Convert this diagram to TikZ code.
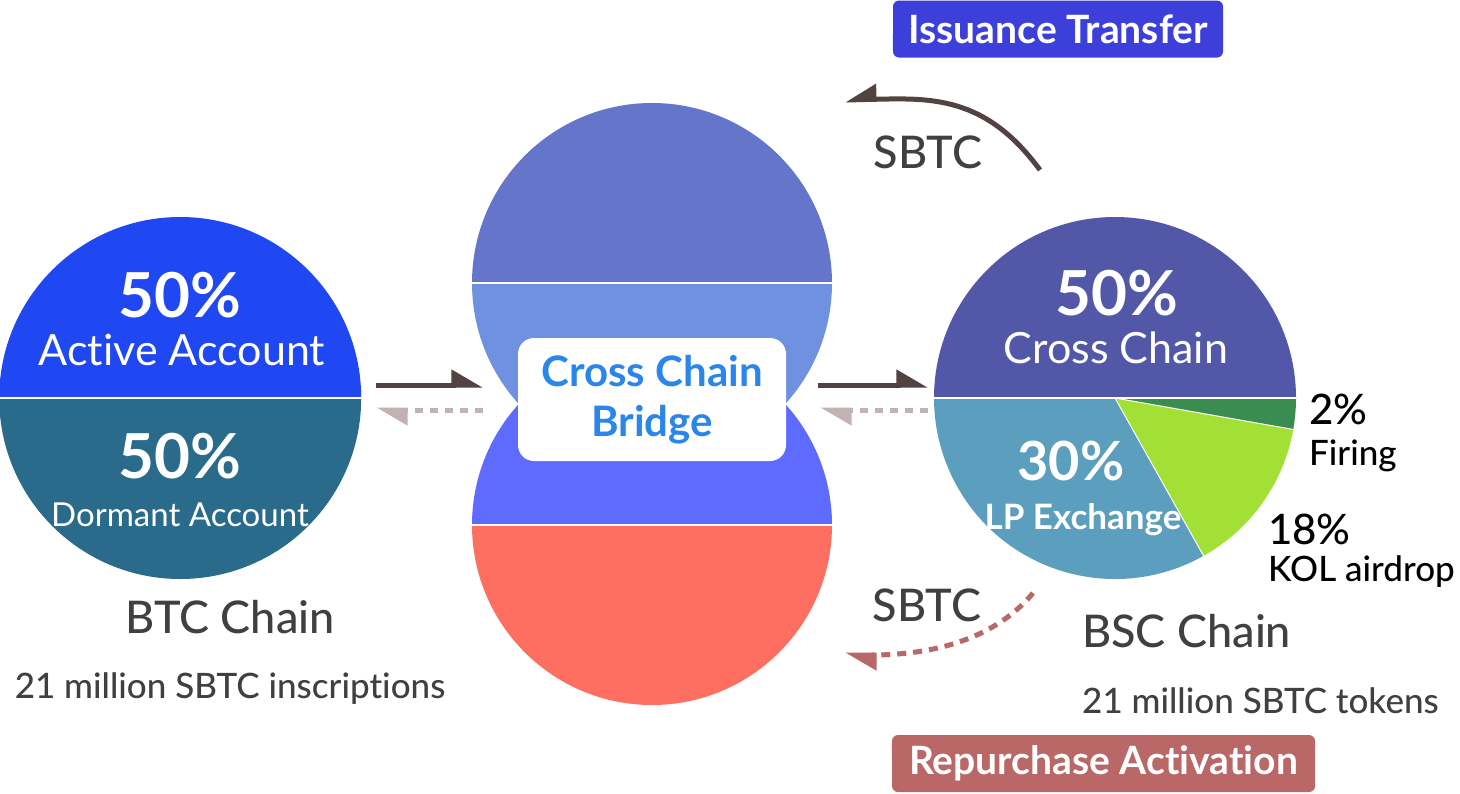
\documentclass[tikz,border=0pt]{standalone}
\usepackage{fontspec}
\setmainfont{Lato}[Ligatures=NoCommon]
\newfontfamily\medfont{Lato Medium}[Ligatures=NoCommon]
\usetikzlibrary{arrows.meta,positioning}

\definecolor{btcTop}{HTML}{1F47F2}
\definecolor{btcBot}{HTML}{2A6B8C}
\definecolor{midA}{HTML}{6575C9}
\definecolor{midB}{HTML}{7090E0}
\definecolor{midC}{HTML}{5F6BFF}
\definecolor{midD}{HTML}{FF6F61}
\definecolor{bscTop}{HTML}{5257A8}
\definecolor{bscLP}{HTML}{5B9EBD}
\definecolor{bscKOL}{HTML}{A3E035}
\definecolor{bscFire}{HTML}{3A8C50}
\definecolor{bridgeTxt}{HTML}{2B86EB}
\definecolor{darkTxt}{HTML}{404040}
\definecolor{arrowDark}{HTML}{524242}
\definecolor{arrowLight}{HTML}{C2B2B2}
\definecolor{issueBlue}{HTML}{3D3FDB}
\definecolor{buyRed}{HTML}{BA6767}

\begin{document}
\begin{tikzpicture}[
  x=1pt, y=-1pt,
  pct/.style={text=white, anchor=base, inner sep=0pt,
              font=\fontsize{62}{62}\selectfont\bfseries},
  inlbl/.style={text=white, anchor=base, inner sep=0pt,
                font=\fontsize{43}{43}\selectfont},
  sidelbl/.style={text=black, anchor=base west, inner sep=0pt,
                  font=\medfont\fontsize{35}{35}\selectfont},
  sidepct/.style={text=black, anchor=base west, inner sep=0pt,
                  font=\medfont\fontsize{42}{42}\selectfont},
  chain/.style={text=darkTxt, inner sep=0pt,
                font=\medfont\fontsize{45}{45}\selectfont},
  supply/.style={text=darkTxt, inner sep=0pt,
                 font=\medfont\fontsize{35}{35}\selectfont},
  callout/.style={text=white, rounded corners=6pt, inner sep=0pt,
                  minimum height=57pt, font=\fontsize{39}{39}\selectfont\bfseries},
  flow/.style={draw=arrowDark, line width=5pt,
               -{Triangle[harpoon,length=27pt,width=30pt]}},
  back/.style={draw=arrowLight, line width=5pt, dash pattern=on 8pt off 7pt,
               -{Triangle[harpoon,length=27pt,width=30pt]}},
  divider/.style={draw=white, line width=1.5pt}
]
\useasboundingbox (0,0) rectangle (1460,793);

% ───────── BTC chain ─────────
\node[circle, minimum size=362pt, inner sep=0pt] (btc) at (180,398) {};
\fill[btcTop] (btc.east) arc[start angle=0, end angle=-180, radius=181] -- cycle;
\fill[btcBot] (btc.east) arc[start angle=0, end angle=180, radius=181] -- cycle;
\draw[divider] (btc.west) -- (btc.east);
\node[pct]   at (180,317) {50\%};
\node[inlbl] at (182,365) {Active Account};
\node[pct]   at (180,478) {50\%};
\node[inlbl, font=\fontsize{33}{33}\selectfont] at (180,526) {Dormant Account};
\node[chain, anchor=base] (btcname) at (230,633) {BTC Chain};
\node[supply, anchor=base] at (230,698) {21 million SBTC inscriptions};

% ───────── cross chain bridge ─────────
\fill[midD] (472,525) arc[start angle=180, end angle=0, radius=180] -- cycle;
\fill[midC] (472,525) arc[start angle=180, end angle=360, radius=180] -- cycle;
\begin{scope}
  \clip (400,0) rectangle (900,404);
  \fill[midA] (472,283) arc[start angle=180, end angle=360, radius=180] -- cycle;
  \fill[midB] (472,283) arc[start angle=180, end angle=0, radius=180] -- cycle;
\end{scope}
\draw[divider] (472,283) -- (832,283);
\draw[divider] (472,525) -- (832,525);
\node[fill=white, rounded corners=16pt, minimum width=268pt, minimum height=123pt,
      align=center, text=bridgeTxt, font=\fontsize{42}{50}\selectfont\bfseries]
  (bridge) at (652,399.5) {Cross Chain\\Bridge};

% ───────── BSC chain ─────────
\node[circle, minimum size=362pt, inner sep=0pt] (bsc) at (1115,398) {};
\fill[bscTop] (bsc.center) -- +(180:181) arc[start angle=180, end angle=360, radius=181] -- cycle;
\fill[bscFire] (bsc.center) -- +(0:181) arc[start angle=0, end angle=10, radius=181] -- cycle;
\fill[bscKOL] (bsc.center) -- +(10:181) arc[start angle=10, end angle=60.7, radius=181] -- cycle;
\fill[bscLP] (bsc.center) -- +(60.7:181) arc[start angle=60.7, end angle=180, radius=181] -- cycle;
\draw[divider] (bsc.west) -- (bsc.east);
\draw[divider, line width=1pt] (bsc.center) -- +(10:181);
\draw[divider, line width=1pt] (bsc.center) -- +(60.7:181);
\node[pct]   at (1117,315) {50\%};
\node[inlbl] at (1116,363) {Cross Chain};
\node[pct, font=\fontsize{54}{54}\selectfont\bfseries] at (1071,480) {30\%};
\node[inlbl, font=\fontsize{35}{35}\selectfont\bfseries] at (1083,529) {LP Exchange};
\node[sidepct] at (1309,424) {2\%};
\node[sidelbl] at (1309,465) {Firing};
\node[sidepct] at (1268,544) {18\%};
\node[sidelbl] at (1268,581) {KOL airdrop};
\node[chain, anchor=base west] (bscname) at (1082,647) {BSC Chain};
\node[supply, anchor=base west] at (1082,713) {21 million SBTC tokens};

% ───────── arrows ──────────
\draw[flow] ([xshift=15pt, yshift=13pt]btc.east) -- ([xshift=-35pt, yshift=14.5pt]bridge.west);
\draw[back] ([xshift=-35pt, yshift=-10.5pt]bridge.west) -- ([xshift=15pt, yshift=-12pt]btc.east);
\draw[flow] ([xshift=32pt, yshift=14.5pt]bridge.east) -- ([xshift=-6pt, yshift=13pt]bsc.west);
\draw[back] ([xshift=-6pt, yshift=-12pt]bsc.west) -- ([xshift=34pt, yshift=-10.5pt]bridge.east);

% ───────── issuance / repurchase ─────────
\node[callout, fill=issueBlue, minimum width=330pt] (issue) at (1058,29) {Issuance Transfer};
\fill[issueBlue] ([yshift=8pt]issue.south west) -- ++(0,-16) -- ++(19,-8) -- cycle;
\node[callout, fill=buyRed, minimum width=423pt] (rebuy) at (1103.5,763.5) {Repurchase Activation};
\fill[buyRed] ([yshift=-8pt]rebuy.north west) -- ++(0,16) -- ++(19,8) -- cycle;

\coordinate (upfrom) at (1040,170);
\coordinate (upto)   at (845,100);
\coordinate (dnfrom) at (1033,593);
\coordinate (dnto)   at (845,655);
\draw[flow, -{Triangle[harpoon,swap,length=27pt,width=30pt]}]
  (upfrom) .. controls (985,95) and (930,98) .. (upto);
\draw[back, draw=buyRed, dash pattern=on 9pt off 7pt]
  (dnfrom) .. controls (990,645) and (920,655) .. (dnto);
\node[chain, anchor=base] at (928,168) {SBTC};
\node[chain, anchor=base] at (927,621) {SBTC};

\end{tikzpicture}
\end{document}
